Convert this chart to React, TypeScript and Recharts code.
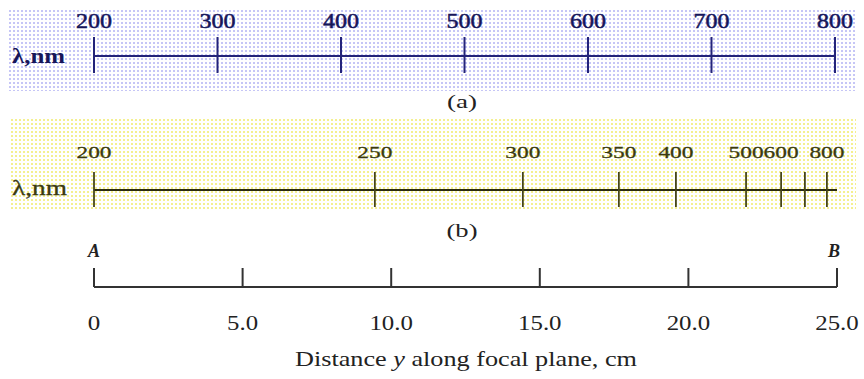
import React from "react";
import { LineChart, XAxis, YAxis } from "recharts";

// Panel (a): linear wavelength scale (nm)
const aWavelengths = [200, 300, 400, 500, 600, 700, 800];
// Panel (b): prism (nonlinear) wavelength scale, wavelength -> position on focal plane (cm)
const bWavelengths = [200, 250, 300, 350, 400, 500, 600, 700, 800];
const bPositionsCm = [0, 9.45, 14.43, 17.66, 19.58, 21.94, 23.12, 23.92, 24.66];
const bTickLabels = ["200", "250", "300", "350", "400", "500", "600", "", "800"];
// Panel (c): distance along focal plane (cm)
const cDistancesCm = [0, 5, 10, 15, 20, 25];
const cTickLabels = ["0", "5.0", "10.0", "15.0", "20.0", "25.0"];
const cEndLabels = ["A", "B"];

const W = 864;
const H = 379;
const SERIF = "Liberation Serif, DejaVu Serif, serif";

const aData = aWavelengths.map((w) => ({ wl: w }));
const bData = bWavelengths.map((w, i) => ({ wl: w, pos: bPositionsCm[i], label: bTickLabels[i] }));
const cData = cDistancesCm.map((d, i) => ({ pos: d, label: cTickLabels[i] }));

const labelWidth = (s: string) => {
  let w = 0;
  for (const ch of s) w += ch === "." ? 6 : 12.5;
  return w;
};

const ATick = (props: any) => {
  const { x, y, payload } = props;
  return (
    <g>
      <line x1={x} x2={x} y1={y - 19} y2={y + 17} stroke="#24247a" strokeWidth={2} />
      <text x={x} y={y - 28} textAnchor="middle" fontFamily={SERIF} fontSize={20}
        fill="#16165a" stroke="#16165a" strokeWidth={0.5} textLength={36} lengthAdjust="spacingAndGlyphs">
        {String(payload.value)}
      </text>
    </g>
  );
};

const BTick = (props: any) => {
  const { x, y, index } = props;
  const label = bTickLabels[index] ?? "";
  return (
    <g>
      <line x1={x} x2={x} y1={y - 18} y2={y + 17} stroke="#45451a" strokeWidth={1.8} />
      {label ? (
        <text x={x} y={y - 32} textAnchor="middle" fontFamily={SERIF} fontSize={17}
          fill="#3a3a10" stroke="#3a3a10" strokeWidth={0.3} textLength={35} lengthAdjust="spacingAndGlyphs">
          {label}
        </text>
      ) : null}
    </g>
  );
};

const CTick = (props: any) => {
  const { x, y, index } = props;
  const label = cTickLabels[index] ?? "";
  const last = cTickLabels.length - 1;
  return (
    <g>
      <line x1={x} x2={x} y1={y - 19} y2={y} stroke="#333" strokeWidth={2} />
      <text x={x} y={y + 43} textAnchor="middle" fontFamily={SERIF} fontSize={20}
        fill="#222" textLength={labelWidth(label)} lengthAdjust="spacingAndGlyphs">
        {label}
      </text>
      {index === 0 || index === last ? (
        <text x={index === 0 ? x : x - 3} y={y - 30} textAnchor="middle" fontFamily={SERIF}
          fontSize={18} fontStyle="italic" fontWeight="bold" fill="#222">
          {index === 0 ? cEndLabels[0] : cEndLabels[1]}
        </text>
      ) : null}
    </g>
  );
};

const layer: React.CSSProperties = { position: "absolute", left: 0, top: 0 };

export default function App() {
  return (
    <div style={{ position: "absolute", left: 0, top: 0, width: W, height: H, background: "#fff", overflow: "hidden" }}>
      <div style={{
        position: "absolute", left: 8, top: 9, width: 848, height: 82,
        backgroundImage: "radial-gradient(circle, #c6c6f6 0.8px, transparent 1.1px)",
        backgroundSize: "4px 4px",
      }} />
      <div style={{
        position: "absolute", left: 10, top: 118, width: 846, height: 92,
        backgroundImage: "radial-gradient(circle, #f4f090 0.8px, transparent 1.1px)",
        backgroundSize: "4px 4px",
      }} />

      <div style={layer}>
        <LineChart width={W} height={H} data={aData} margin={{ top: 0, right: 29, bottom: 0, left: 94 }}>
          <XAxis xAxisId="a" orientation="top" type="number" dataKey="wl" domain={[200, 800]}
            ticks={aWavelengths} interval={0} height={56} tickSize={0} tickMargin={0}
            tickLine={false} axisLine={{ stroke: "#24247a", strokeWidth: 2 }} tick={<ATick />} />
          <YAxis hide domain={[0, 1]} />
          <text x={12} y={63} fontFamily={SERIF} fontSize={20} fontWeight="bold" fill="#16165a"
            textLength={53} lengthAdjust="spacingAndGlyphs">λ,nm</text>
          <text x={462} y={108} textAnchor="middle" fontFamily={SERIF} fontSize={18} fill="#222"
            textLength={30} lengthAdjust="spacingAndGlyphs">(a)</text>
        </LineChart>
      </div>

      <div style={layer}>
        <LineChart width={W} height={H} data={bData} margin={{ top: 0, right: 27, bottom: 0, left: 94 }}>
          <XAxis xAxisId="b" orientation="top" type="number" dataKey="pos" domain={[0, 25]}
            ticks={bPositionsCm} interval={0} height={190} tickSize={0} tickMargin={0}
            tickLine={false} axisLine={{ stroke: "#2a2a12", strokeWidth: 2 }} tick={<BTick />} />
          <YAxis hide domain={[0, 1]} />
          <text x={12} y={195} fontFamily={SERIF} fontSize={20} fill="#3a3a10" stroke="#3a3a10" strokeWidth={0.3}
            textLength={55} lengthAdjust="spacingAndGlyphs">λ,nm</text>
          <text x={462} y={237} textAnchor="middle" fontFamily={SERIF} fontSize={18} fill="#222"
            textLength={31} lengthAdjust="spacingAndGlyphs">(b)</text>
        </LineChart>
      </div>

      <div style={layer}>
        <LineChart width={W} height={H} data={cData} margin={{ top: 0, right: 27, bottom: 0, left: 94 }}>
          <XAxis xAxisId="c" orientation="top" type="number" dataKey="pos" domain={[0, 25]}
            ticks={cDistancesCm} interval={0} height={287} tickSize={0} tickMargin={0}
            tickLine={false} axisLine={{ stroke: "#333", strokeWidth: 2 }} tick={<CTick />} />
          <YAxis hide domain={[0, 1]} />
          <text x={295} y={366} fontFamily={SERIF} fontSize={21} fill="#222"
            textLength={342} lengthAdjust="spacingAndGlyphs">
            Distance <tspan fontStyle="italic">y</tspan> along focal plane, cm
          </text>
        </LineChart>
      </div>
    </div>
  );
}
